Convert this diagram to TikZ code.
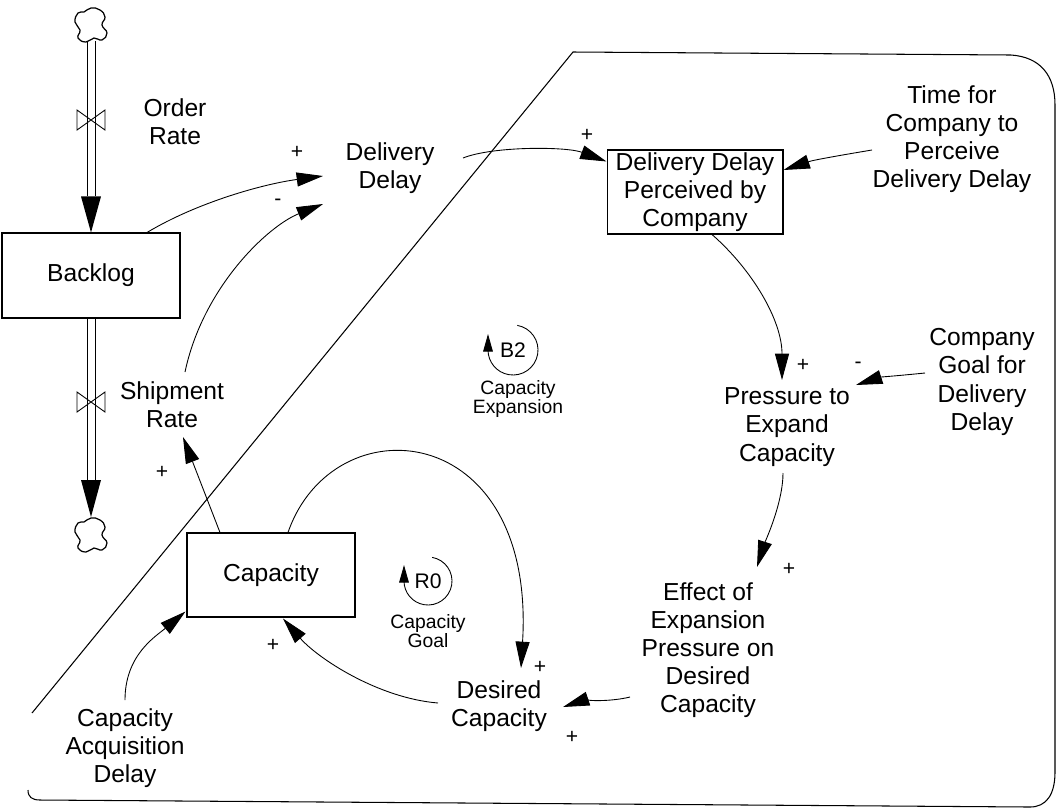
\documentclass[tikz,border=0pt]{standalone}
\usepackage{fontspec}
\setmainfont{Liberation Sans}
\usetikzlibrary{arrows.meta,calc}

\begin{document}
\begin{tikzpicture}[x=0.02cm,y=-0.02cm,
  lbl/.style={align=center,font=\fontsize{14}{16}\selectfont,inner sep=0pt},
  boxed/.style={lbl,draw,line width=0.6pt},
  link/.style={line width=0.5pt,-{Triangle[length=15pt,width=8pt]}},
  pipe/.style={line width=0.5pt},
  sgn/.style={font=\fontsize{12}{12}\selectfont,inner sep=0pt},
  loopmark/.style={font=\fontsize{12}{12}\selectfont,inner sep=0pt},
  looplbl/.style={align=center,font=\fontsize{11}{10.5}\selectfont,inner sep=0pt},
  looparc/.style={line width=0.5pt,-{Triangle[length=10pt,width=5.5pt]}},
  valve/.style={line width=0.5pt},
  border/.style={line width=0.6pt},
  cloud/.pic={\draw[line width=0.7pt] plot[smooth cycle,tension=0.8] coordinates
     {(0,-17) (9,-15) (14,-8) (11,0) (16,8) (11,15) (3,13) (-5,17) (-13,13)
      (-11,5) (-16,-3) (-13,-12) (-7,-13)};}
]
\useasboundingbox (0,0) rectangle (1057,809);

% outline of the sector boundary
\draw[border] (32,713) -- (573,52) -- (1011,55)
  .. controls (1040,57) and (1055,75) .. (1055,105) -- (1055,772)
  .. controls (1055,795) and (1046,807) .. (1030,807) -- (40,800)
  .. controls (32,800) and (28,797) .. (28,790);

% stocks
\node[boxed,minimum width=3.56cm,minimum height=1.70cm] (bk) at (91,275.5) {Backlog};
\node[boxed,minimum width=3.52cm,minimum height=1.68cm] (ddpc) at (695,192) {Delivery Delay\\Perceived by\\Company};
\node[boxed,minimum width=3.36cm,minimum height=1.68cm] (cap) at (271,575) {Capacity};

% auxiliaries and rates
\node[lbl] (or) at (175,122) {Order\\Rate};
\node[lbl] (sr) at (172,405) {Shipment\\Rate};
\node[lbl] (dd) at (390,168) {Delivery\\Delay};
\node[lbl] (tc) at (952,139) {Time for\\Company to\\Perceive\\Delivery Delay};
\node[lbl] (pe) at (787,427) {Pressure to\\Expand\\Capacity};
\node[lbl] (cg) at (982,382) {Company\\Goal for\\Delivery\\Delay};
\node[lbl] (ef) at (708,650) {Effect of\\Expansion\\Pressure on\\Desired\\Capacity};
\node[lbl] (des) at (499,706) {Desired\\Capacity};
\node[lbl] (cad) at (125,748) {Capacity\\Acquisition\\Delay};

% flow pipes with clouds and valves
\coordinate (c1) at (91,25);
\coordinate (c2) at (91,535);
\coordinate (v1) at (91,120);
\coordinate (v2) at (91,402);
\pic at (c1) {cloud};
\pic at (c2) {cloud};
\foreach \dx in {-4,4} {
  \draw[pipe] ([shift={(\dx,16)}]c1) -- ([shift={(\dx,-36)}]bk.north);
  \draw[pipe] ([shift={(\dx,0)}]bk.south) -- ([shift={(\dx,-55)}]c2);
}
\fill ([shift={(-10,-36)}]bk.north) -- (bk.north) -- ([shift={(10,-36)}]bk.north) -- cycle;
\fill ([shift={(-10,-55)}]c2) -- ([shift={(0,-18)}]c2) -- ([shift={(10,-55)}]c2) -- cycle;
\foreach \v in {v1,v2}
  \draw[valve] ([shift={(-14,-10)}]\v) -- ([shift={(-14,10)}]\v) -- ([shift={(14,-10)}]\v)
     -- ([shift={(14,10)}]\v) -- cycle;

% causal links
\draw[link] ([shift={(56,0)}]bk.north) .. controls +(50,-30) and +(-60,8) .. ([shift={(-67,8)}]dd.center);
\draw[link] ([shift={(13,-33)}]sr.center) .. controls +(18,-85) and +(-55,22) .. ([shift={(-67,36)}]dd.center);
\draw[link] ([shift={(-51,0)}]cap.north) -- ([shift={(11,32)}]sr.center);
\draw[link] ([shift={(17,0)}]cap.north) .. controls +(45,-130) and +(15,-250) .. ([shift={(22,-38)}]des.center);
\draw[link] ([shift={(-61,-3)}]des.center) .. controls +(-60,-5) and +(35,40) .. ([shift={(12,1)}]cap.south);
\draw[link] ([shift={(0,-48)}]cad.center) .. controls +(0,-45) and +(-30,25) .. ([shift={(-1,-6)}]cap.south west);
\draw[link] ([shift={(73,-10)}]dd.center) .. controls +(30,-12) and +(-40,-15) .. ([shift={(0,12)}]ddpc.north west);
\draw[link] ([shift={(-80,11)}]tc.center) .. controls +(-30,5) and +(30,-10) .. ([shift={(0,-22)}]ddpc.east);
\draw[link] ([shift={(17,0)}]ddpc.south) .. controls +(40,35) and +(0,-60) .. ([shift={(-5,-47)}]pe.center);
\draw[link] ([shift={(-57,-9)}]cg.center) .. controls +(-30,3) and +(25,-8) .. ([shift={(69,-42)}]pe.center);
\draw[link] ([shift={(-4,46)}]pe.center) .. controls +(0,30) and +(8,-25) .. ([shift={(49,-83)}]ef.center);
\draw[link] ([shift={(-78,47)}]ef.center) .. controls +(-20,5) and +(18,-6) .. ([shift={(64,1)}]des.center);

% link polarities
\node[sgn] (s1) at (297,152) {+};
\node[sgn] (s2) at (278,202) {-};
\node[sgn] (s3) at (587,135) {+};
\node[sgn] (s4) at (162,472) {+};
\node[sgn] (s5) at (803,365) {+};
\node[sgn] (s6) at (858,365) {-};
\node[sgn] (s7) at (789,569) {+};
\node[sgn] (s8) at (540,667) {+};
\node[sgn] (s9) at (572,737) {+};
\node[sgn] (s10) at (273,645) {+};

% loop identifiers
\node[loopmark] (r0) at (428,581) {R0};
\draw[looparc] ([shift={(-80:24)}]r0.center) arc[start angle=-80,end angle=180,radius=24] -- ++(0,-16);
\node[looplbl] (r0l) at (428,631) {Capacity\\Goal};
\node[loopmark] (b2) at (513,350) {B2};
\draw[looparc] ([shift={(-80:25)}]b2.center) arc[start angle=-80,end angle=180,radius=25] -- ++(0,-16);
\node[looplbl] (b2l) at (518,399) {Capacity\\Expansion};
\end{tikzpicture}
\end{document}
